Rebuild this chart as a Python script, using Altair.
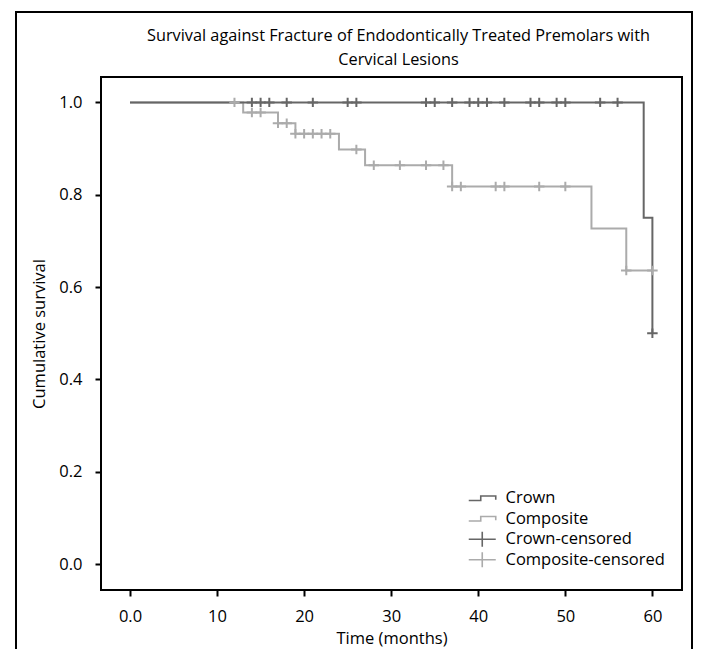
import altair as alt
import pandas as pd

# ---------------- data ----------------
crown_times = [0, 59, 60]
crown_survival = [1.0, 0.75, 0.5]
composite_times = [0, 13, 17, 19, 24, 27, 37, 53, 57, 60]
composite_survival = [1.0, 0.978, 0.955, 0.932, 0.898, 0.864, 0.818, 0.727, 0.636, 0.636]
crown_censored_times = [14, 15, 16, 18, 21, 25, 26, 34, 35, 37, 39, 40, 41, 43,
                        46, 47, 49, 50, 54, 56, 60]
composite_censored_times = [12, 14, 15, 17, 18, 19, 20, 21, 22, 23, 26, 28, 31, 34,
                            36, 37, 38, 42, 43, 47, 50, 57, 60]

series_names = ["Crown", "Composite", "Crown-censored", "Composite-censored"]
series_colors = ["#666666", "#ababab", "#666666", "#ababab"]
x_ticks = [0, 10, 20, 30, 40, 50, 60]
y_ticks = [0.0, 0.2, 0.4, 0.6, 0.8, 1.0]
title_lines = ["Survival against Fracture of Endodontically Treated Premolars with",
               "Cervical Lesions"]
x_title = "Time (months)"
y_title = "Cumulative survival"

FONT = "Open Sans"
# legend symbols: drawn with a small symbol size, paths extend beyond the unit box;
# the leading moves give every legend symbol the same vertical extent
STEP_PATH = "M0,-1.5M0,1.5M-2.7,0.46L-0.3,0.46L-0.3,-0.46L2.7,-0.46L2.7,0.3"
CROSS_LEGEND = "M-2.7,0L2.7,0M0,-1.5L0,1.5"
CROSS_PLOT = "M-1,0L1,0M0,-0.9L0,0.9"
legend_shapes = [STEP_PATH, STEP_PATH, CROSS_LEGEND, CROSS_LEGEND]


def surv_at(times, values, t):
    s = values[0]
    for ti, si in zip(times, values):
        if ti <= t:
            s = si
    return s


line_rows = []
for name, ts, ss in [("Composite", composite_times, composite_survival),
                     ("Crown", crown_times, crown_survival)]:
    for i, (t, s) in enumerate(zip(ts, ss)):
        line_rows.append({"series": name, "time": t, "survival": s, "order": i})
lines_df = pd.DataFrame(line_rows)

cens_rows = []
for name, ts, ss, cts in [("Composite-censored", composite_times, composite_survival, composite_censored_times),
                          ("Crown-censored", crown_times, crown_survival, crown_censored_times)]:
    for t in cts:
        cens_rows.append({"series": name, "time": t, "survival": surv_at(ts, ss, t)})
cens_df = pd.DataFrame(cens_rows)

# ---------------- chart ----------------
x_scale = alt.Scale(domain=[-3.33, 63.4], nice=False, zero=False)
y_scale = alt.Scale(domain=[-0.056, 1.055], nice=False, zero=False)
# stroke scale for the drawn marks (domain order differs from the legend scale
# so that the hidden stroke legend is not merged with the visible one)
stroke_domain = [series_names[1], series_names[0], series_names[3], series_names[2]]
stroke_range = [series_colors[1], series_colors[0], series_colors[3], series_colors[2]]
stroke_scale = alt.Scale(domain=stroke_domain, range=stroke_range)

x_axis = alt.Axis(values=x_ticks, title=x_title,
                  labelExpr="datum.value == 0 ? '0.0' : format(datum.value, 'd')")
y_axis = alt.Axis(values=y_ticks, format=".1f", title=y_title)

lines = alt.Chart(lines_df).mark_line(interpolate="step-after", strokeWidth=2).encode(
    x=alt.X("time:Q", scale=x_scale, axis=x_axis),
    y=alt.Y("survival:Q", scale=y_scale, axis=y_axis),
    stroke=alt.Stroke("series:N", scale=stroke_scale, legend=None),
    order="order:Q",
)

censor = alt.Chart(cens_df).mark_point(shape=CROSS_PLOT, filled=False, size=110,
                                        strokeWidth=2, opacity=1).encode(
    x=alt.X("time:Q"),
    y=alt.Y("survival:Q"),
    stroke=alt.Stroke("series:N", scale=stroke_scale, legend=None),
)

legend_def = alt.Legend(title=None, orient="none", legendX=373, legendY=413,
                        symbolSize=100, symbolStrokeWidth=1.6, labelFont=FONT,
                        labelFontSize=16.5, labelColor="black", labelOffset=15,
                        rowPadding=-1.5, padding=0, symbolFillColor="transparent")

legend_layer = alt.Chart(alt.Data(values=[])).mark_point(filled=False, strokeWidth=1.6,
                                                          opacity=1).encode(
    color=alt.Color("series:N", scale=alt.Scale(domain=series_names, range=series_colors),
                    legend=legend_def),
    shape=alt.Shape("series:N", scale=alt.Scale(domain=series_names, range=legend_shapes),
                    legend=legend_def),
)

frame = alt.Chart(pd.DataFrame({"k": [0]})).mark_rect(
    fill="white", fillOpacity=0, stroke="black", strokeWidth=2, clip=False
).encode(x=alt.value(-85), x2=alt.value(591), y=alt.value(-65), y2=alt.value(620))

chart = alt.layer(lines, censor, legend_layer, frame).properties(
    width=581,
    height=513,
    autosize=alt.AutoSizeParams(type="none"),
    padding={"left": 93, "top": 69, "right": 11, "bottom": 59},
    background="white",
    title=alt.TitleParams(text=title_lines, font=FONT, fontSize=16.3, fontWeight="normal",
                          color="black", anchor="middle", frame="group", offset=-57,
                          lineHeight=24, dx=7),
).configure_view(
    stroke="black", strokeWidth=2, fill="#f0f0f0"
).configure_axis(
    grid=False, domain=False, tickColor="black", tickWidth=2, tickSize=6,
    labelFont=FONT, labelFontSize=16.5, labelColor="black",
    titleFont=FONT, titleFontSize=16.5, titleFontWeight="normal", titleColor="black",
).configure_axisX(
    labelPadding=12, titlePadding=6
).configure_axisY(
    labelPadding=13, titlePadding=11
)

chart.save("out.html", embed_options={"renderer": "svg", "actions": False})
